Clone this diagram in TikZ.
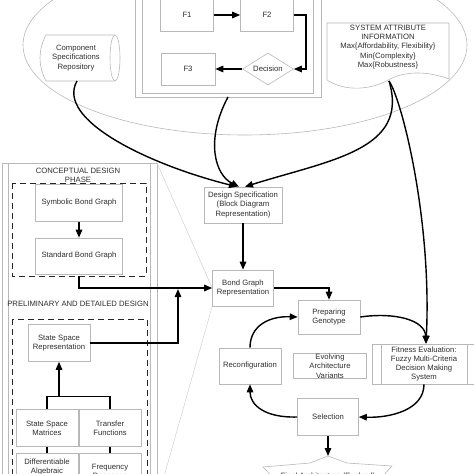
\documentclass[tikz,border=0pt]{standalone}
\usepackage{fontspec}
\setmainfont{Liberation Sans}
\usetikzlibrary{arrows.meta,shapes.geometric}
\definecolor{pGray}{gray}{0.72}
\definecolor{pLight}{gray}{0.82}
\definecolor{pText}{gray}{0.18}
\tikzset{
    blk/.style={rectangle, draw=pGray, line width=0.6pt, text=pText, align=center, inner sep=1pt, font=\fontsize{7.7}{9.3}\selectfont},
    ttl/.style={text=pText, align=center, inner sep=0pt, font=\fontsize{7.7}{9.3}\selectfont},
    gline/.style={draw=pGray, line width=0.6pt},
    gfaint/.style={draw=pLight, line width=0.5pt},
    ln/.style={line width=1.4pt, black},
    arr/.style={ln, -{Triangle[length=8pt,width=6.5pt]}},
    dbox/.style={draw=black!85, line width=1pt, dash pattern=on 6pt off 4pt}
}

\begin{document}
\begin{tikzpicture}[x=1pt,y=-1pt]
\useasboundingbox (0,0) rectangle (474,474);
\clip (0,0) rectangle (474,474);
\draw[gline] (245,45) ellipse [x radius=222, y radius=90];
\draw[gline] (135,-5) rectangle (321,97);
\draw[gline] (142,-5) rectangle (313,93);
\node[blk, minimum width=53pt, minimum height=32pt] (f1) at (187,15) {F1};
\node[blk, minimum width=53pt, minimum height=32pt] (f2) at (267,15) {F2};
\node[blk, minimum width=54pt, minimum height=32pt] (f3) at (188,69) {F3};
\node[blk, diamond, aspect=1.6, inner sep=0.5pt, minimum width=51pt, minimum height=32pt] (dec) at (268,69) {Decision};
\draw[arr] (f1) -- (f2);
\draw[arr] (f2.east) -- ++(12,0) |- (dec.east);
\draw[arr] (dec) -- (f3);
\draw[gline] (115,35) -- (46,35) .. controls (38,50) and (38,66) .. (46,81) -- (115,81);
\draw[gline] (115,58) ellipse [x radius=5, y radius=23];
\node[ttl] (repo) at (76,58) {Component\\Specifications\\Repository};
\coordinate (repob) at (77,81);
\draw[gline] (327,80) -- (327,23) -- (449,23) -- (449,79) .. controls (430,72) and (408,70) .. (390,79) .. controls (372,90) and (345,92) .. (327,80);
\node[ttl] (doc) at (388,47) {SYSTEM ATTRIBUTE\\INFORMATION\\Max\{Affordability, Flexibility\}\\Min\{Complexity\}\\Max\{Robustness\}};
\coordinate (docb) at (389,81);
\coordinate (topb) at (228,97);
\node[blk, minimum width=78pt, minimum height=36pt] (ds) at (243,205) {Design Specification\\(Block Diagram\\Representation)};
\node[blk, minimum width=61pt, minimum height=36pt] (bg) at (243,288) {Bond Graph\\Representation};
\node[blk, minimum width=62pt, minimum height=34pt] (pg) at (329,317) {Preparing\\Genotype};
\node[blk, minimum width=103pt, minimum height=40pt] (fe) at (424,364) {Fitness Evaluation:\\Fuzzy Multi-Criteria\\Decision Making\\System};
\draw[gline] ([xshift=9pt]fe.north west) -- ([xshift=9pt]fe.south west);
\draw[gline] ([xshift=-9pt]fe.north east) -- ([xshift=-9pt]fe.south east);
\node[blk, minimum width=62pt, minimum height=36pt] (rc) at (250,366) {Reconfiguration};
\node[blk, minimum width=73pt, minimum height=25pt, inner sep=0pt] (ev) at (330,366) {Evolving\\Architecture\\Variants};
\node[blk, minimum width=61pt, minimum height=37pt] (sel) at (328,417) {Selection};
\draw[gline] (263,467) -- (310,463) -- (328,456) -- (347,463) -- (392,466) -- (370,490) -- (285,490) -- cycle;
\node[ttl, anchor=base] (fin) at (328,478) {Final Architecture (Evolved)};
\coordinate (fint) at (328,456);
\draw[arr] (repob) .. controls (55,120) and (150,165) .. ([xshift=-6pt]ds.north);
\draw[arr] (topb) .. controls (205,140) and (215,175) .. ([xshift=-4pt]ds.north);
\draw[arr] (docb) .. controls (410,150) and (330,160) .. ([xshift=2pt]ds.north);
\draw[arr] (docb) .. controls (402,100) and (432,220) .. ([xshift=2pt]fe.north);
\draw[arr] (ds) -- (bg);
\draw[arr] (bg.east) -| (pg.north);
\draw[arr] (rc.north) .. controls (250,325) and (270,316) .. (pg.west);
\draw[arr] (pg.east) .. controls (395,312) and (425,320) .. ([xshift=2pt]fe.north);
\draw[arr] (fe.south) .. controls (424,410) and (390,418) .. (sel.east);
\draw[arr] (sel.west) .. controls (265,418) and (250,405) .. (rc.south);
\draw[arr] (sel.south) -- (fint);
\draw[gline] (2,163) rectangle (157,490);
\draw[gline] (8,163) -- (8,490);
\draw[gline] (150,163) -- (150,490);
\coordinate (pnl) at (157,163);
\coordinate (pnr) at (163,480);
\draw[gfaint] (pnl) -- (bg.west);
\draw[gfaint] (bg.south west) -- (pnr);
\node[ttl] (cdp) at (78,175) {CONCEPTUAL DESIGN\\PHASE};
\draw[dbox] (12,183) rectangle (146,276);
\node[blk, minimum width=87pt, minimum height=37pt] (sbg) at (79,203) {Symbolic Bond Graph};
\node[blk, minimum width=87pt, minimum height=36pt] (stbg) at (79,256) {Standard Bond Graph};
\draw[arr] (sbg) -- (stbg);
\coordinate (cdb) at (79,276);
\draw[arr] (cdb) |- (bg.west);
\node[ttl] (pdd) at (78,304) {PRELIMINARY AND DETAILED DESIGN};
\draw[dbox] (12,319) rectangle (147,490);
\node[blk, minimum width=62pt, minimum height=37pt] (ssr) at (59,343) {State Space\\Representation};
\node[blk, minimum width=62pt, minimum height=37pt] (ssm) at (47,428) {State Space\\Matrices};
\node[blk, minimum width=62pt, minimum height=37pt] (tf) at (110,428) {Transfer\\Functions};
\node[blk, minimum width=62pt, minimum height=37pt] (dae) at (47,472) {Differentiable\\Algebraic\\Equations};
\node[blk, minimum width=62pt, minimum height=37pt] (fr) at (110,472) {Frequency\\Response};
\draw[ln] (ssm.north) -- ++(0,-13) -| (tf.north);
\coordinate (jn) at (59,396.5);
\draw[arr] (jn) -- (ssr.south);
\draw[ln] (ssm) -- (dae);
\draw[ln] (tf) -- (fr);
\coordinate (jb) at (178,289);
\draw[arr] (ssr.east) -| (jb);
\end{tikzpicture}
\end{document}
